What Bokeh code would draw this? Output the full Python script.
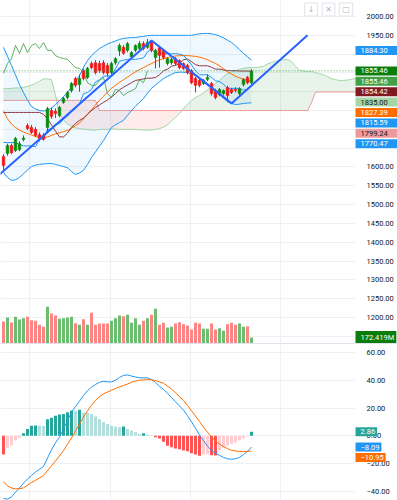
import numpy as np
from bokeh.plotting import figure
from bokeh.models import (Range1d, FixedTicker, Label, Span, CustomJSTickFormatter, Div,
                          LinearAxis, BoxAnnotation)
from bokeh.layouts import column
from bokeh.embed import file_html
from bokeh.resources import INLINE

# ---------------- daily OHLC ----------------
open_ = [1628, 1636, 1657, 1644, 1646, 1673, 1710, 1705, 1700, 1686,
         1684, 1705, 1750, 1748, 1737, 1772, 1785, 1803, 1835, 1819,
         1856, 1838, 1875, 1877, 1875, 1877, 1870, 1851, 1877, 1908,
         1918, 1910, 1893, 1910, 1915, 1928, 1918, 1931, 1891, 1917,
         1910, 1875, 1877, 1888, 1883, 1875, 1870, 1856, 1835, 1830,
         1822, 1833, 1822, 1803, 1792, 1795, 1811, 1806, 1806, 1795,
         1819, 1838, 1824]
high = [1634, 1662, 1662, 1680, 1668, 1684, 1716, 1712, 1706, 1692,
        1690, 1760, 1758, 1756, 1762, 1786, 1802, 1826, 1840, 1846,
        1862, 1866, 1880, 1884, 1882, 1884, 1876, 1880, 1892, 1928,
        1924, 1932, 1908, 1926, 1935, 1934, 1940, 1936, 1914, 1922,
        1914, 1892, 1890, 1892, 1886, 1878, 1874, 1860, 1840, 1834,
        1834, 1846, 1826, 1808, 1810, 1806, 1816, 1810, 1812, 1812,
        1836, 1842, 1860]
low = [1592, 1630, 1634, 1640, 1642, 1668, 1698, 1688, 1680, 1668,
       1670, 1690, 1728, 1730, 1732, 1768, 1780, 1798, 1812, 1800,
       1830, 1834, 1860, 1846, 1850, 1846, 1840, 1846, 1872, 1895,
       1898, 1905, 1888, 1905, 1910, 1910, 1914, 1905, 1862, 1864,
       1886, 1870, 1872, 1870, 1860, 1858, 1846, 1820, 1798, 1812,
       1818, 1828, 1790, 1780, 1788, 1790, 1772, 1794, 1798, 1790,
       1814, 1820, 1820]
close = [1604, 1657, 1638, 1676, 1662, 1677, 1702, 1692, 1684, 1676,
         1674, 1755, 1734, 1742, 1758, 1782, 1798, 1822, 1817, 1835,
         1835, 1862, 1864, 1851, 1856, 1851, 1849, 1875, 1888, 1923,
         1902, 1928, 1904, 1923, 1928, 1915, 1931, 1910, 1910, 1896,
         1891, 1888, 1886, 1875, 1864, 1862, 1851, 1824, 1817, 1817,
         1830, 1838, 1795, 1785, 1806, 1803, 1790, 1798, 1803, 1808,
         1832, 1824, 1855.46]
# volume, millions
volume = [631, 746, 603, 766, 689, 726, 766, 669, 651, 537,
          479, 1053, 861, 804, 709, 726, 746, 766, 583, 537,
          697, 537, 881, 537, 574, 574, 574, 651, 726, 804,
          784, 824, 594, 726, 537, 651, 726, 824, 996, 537,
          594, 459, 480, 574, 611, 554, 517, 402, 594, 574,
          422, 422, 574, 402, 439, 365, 554, 594, 537, 574,
          479, 497, 172.419]

# ---------------- Bollinger Bands ----------------
bb_upper = [1918, 1894, 1870, 1845, 1819, 1798, 1778, 1761, 1754, 1750,
            1749, 1750, 1757, 1766, 1776, 1787, 1798, 1812, 1828, 1843,
            1865, 1883, 1896, 1906, 1915, 1921, 1927, 1931, 1935, 1939,
            1942, 1943, 1944, 1944, 1946, 1947, 1949, 1950, 1950, 1950,
            1950, 1950, 1950, 1950, 1950, 1950, 1950, 1950, 1952, 1954,
            1955, 1955, 1954, 1952, 1948, 1943, 1937, 1931, 1922, 1912,
            1902, 1893, 1884.30]
bb_basis = [1748, 1728, 1714, 1705, 1698, 1693, 1689, 1685, 1681, 1679,
            1678, 1680, 1684, 1688, 1691, 1694, 1697, 1703, 1710, 1717,
            1728, 1740, 1752, 1765, 1777, 1788, 1799, 1809, 1817, 1825,
            1832, 1839, 1846, 1853, 1859, 1864, 1870, 1875, 1880, 1885,
            1888, 1891, 1893, 1895, 1896, 1896, 1896, 1895, 1894, 1892,
            1889, 1885, 1880, 1875, 1869, 1861, 1853, 1847, 1841, 1837,
            1833, 1830, 1827.39]
bb_lower = [1586, 1572, 1564, 1566, 1572, 1582, 1592, 1601, 1605, 1607,
            1608, 1609, 1609, 1607, 1604, 1601, 1598, 1588, 1580, 1584,
            1591, 1607, 1625, 1640, 1655, 1670, 1688, 1705, 1712, 1718,
            1724, 1737, 1750, 1761, 1772, 1782, 1796, 1809, 1818, 1827,
            1835, 1841, 1846, 1851, 1852, 1852, 1851, 1847, 1843, 1837,
            1830, 1821, 1812, 1803, 1793, 1783, 1774, 1769, 1766, 1767,
            1769, 1770, 1770.47]

# ---------------- Ichimoku ----------------
tenkan = [1665, 1665, 1665, 1665, 1660, 1656, 1656, 1656, 1654, 1673,
          1675, 1700, 1701, 1714, 1715, 1727, 1735, 1747, 1755, 1768,
          1795, 1798, 1806, 1826, 1832, 1841, 1842, 1842, 1861, 1881,
          1884, 1886, 1886, 1886, 1888, 1890, 1906, 1914, 1901, 1901,
          1901, 1901, 1901, 1901, 1900, 1897, 1884, 1871, 1856, 1845,
          1845, 1845, 1838, 1829, 1827, 1820, 1809, 1809, 1809, 1809,
          1804, 1807, 1815.59]
kijun = [1745, 1745, 1745, 1745, 1745, 1745, 1745, 1745, 1745, 1745,
         1740, 1728, 1712, 1695, 1680, 1680, 1690, 1705, 1716, 1724,
         1730, 1740, 1750, 1758, 1765, 1772, 1778, 1786, 1795, 1805,
         1812, 1818, 1824, 1830, 1832, 1834, 1836, 1836, 1838, 1845,
         1856, 1860, 1868, 1870, 1875, 1885, 1887, 1880, 1872, 1869,
         1869, 1869, 1865, 1860, 1860, 1858, 1856, 1856, 1856, 1855,
         1855, 1855, 1854.42]
# leading spans run 26 sessions past the last bar
span_a = [1808, 1808, 1809, 1810, 1810, 1812, 1814, 1818, 1822, 1828,
          1834, 1834, 1832, 1790, 1740, 1725, 1715, 1708, 1704, 1702,
          1700, 1700, 1698, 1698, 1700, 1700, 1700, 1701, 1701, 1700,
          1700, 1700, 1700, 1700, 1699, 1698, 1698, 1698, 1700, 1702,
          1706, 1712, 1722, 1732, 1742, 1755, 1767, 1777, 1785, 1790,
          1797, 1805, 1812, 1822, 1830, 1840, 1848, 1852, 1856, 1859,
          1862, 1864, 1864, 1864, 1866, 1868, 1874, 1878, 1881, 1883,
          1885, 1886, 1880, 1868, 1857, 1855, 1854, 1854, 1851, 1848,
          1845, 1840, 1835, 1832, 1830, 1830, 1831, 1833, 1835.00]
span_b = [1777, 1777, 1777, 1777, 1777, 1777, 1777, 1777, 1777, 1777,
          1777, 1777, 1777, 1777, 1777, 1777, 1777, 1777, 1777, 1777,
          1777, 1777, 1777, 1777, 1750, 1750, 1750, 1750, 1750, 1750,
          1750, 1750, 1750, 1750, 1750, 1750, 1750, 1750, 1750, 1750,
          1750, 1750, 1750, 1750, 1750, 1750, 1750, 1750, 1750, 1750,
          1750, 1750, 1750, 1750, 1750, 1750, 1750, 1750, 1750, 1750,
          1750, 1750, 1750, 1750, 1750, 1750, 1750, 1750, 1750, 1750,
          1750, 1750, 1750, 1750, 1750, 1750, 1750, 1771, 1799.24, 1799.24,
          1799.24, 1799.24, 1799.24, 1799.24, 1799.24, 1799.24, 1799.24, 1799.24, 1799.24]
CHIKOU_SHIFT = 26

# ---------------- MACD ----------------
macd_line = [-45, -45.5, -44, -40.5, -37.5, -34, -31, -28.5, -26, -24,
             -22, -16, -10, -5, -1, 5, 11, 17, 21, 25,
             29, 32.5, 35, 37, 38.5, 39.3, 38.8, 38.8, 40, 42,
             43.5, 43.8, 43, 42.3, 41.8, 41.7, 41.7, 40.5, 38.5, 35.5,
             33.5, 30.5, 27.5, 24.5, 21.5, 18.5, 14.5, 10, 5.5, 0.5,
             -3.5, -7.5, -10.5, -12.5, -14, -15.5, -16.5, -16.8, -16.5, -15.5,
             -13.5, -11, -8.09]
signal_line = [-33, -36, -37.5, -38.1, -38, -37.4, -35.5, -33.5, -32, -30.3,
               -28.6, -25, -21.5, -18, -14.5, -10.6, -6, -1.5, 3.5, 8.5,
               13.4, 18, 22, 25.5, 28.2, 30.2, 31.5, 32.8, 34, 35.3,
               36.2, 37.3, 38.5, 39.4, 40, 40.3, 40.4, 40.3, 39.8, 38.8,
               37.8, 35.8, 33.6, 31, 28.3, 25.4, 21.8, 18, 14.2, 10.4,
               6.2, 2.6, -0.8, -3.7, -6, -7.7, -9.2, -10.4, -10.9, -11.2,
               -11.3, -11.2, -10.95]
macd_hist = [-13.4, -8.6, -7.0, -3.4, -1.4, 1.9, 5.0, 7.2, 7.4, 7.2,
             7.0, 12.0, 13.0, 14.4, 15.3, 15.8, 17.0, 18.2, 18.0, 18.8,
             16.8, 16.6, 15.8, 13.9, 12.0, 10.0, 8.6, 7.2, 6.7, 6.2,
             6.7, 5.0, 3.8, 2.6, 1.4, 1.9, 1.0, 0.5, -1.0, -1.9,
             -4.3, -7.2, -8.2, -9.1, -9.6, -10.6, -11.0, -12.5, -13.4, -14.4,
             -13.4, -13.0, -13.9, -14.2, -10.6, -8.6, -7.0, -5.8, -4.8, -3.4,
             -1.9, -0.5, 2.86]

# drawn trend lines: (bar, price) anchors
trend_bar = [-1, 37, 57, 76]
trend_price = [1580, 1936, 1769, 1950]

# month boundaries (bar positions) and scale ticks
month_bars = [6.5, 26.75, 46.75, 69.25]
price_ticks = [1150, 1200, 1250, 1300, 1350, 1400, 1450, 1500, 1550, 1600,
               1650, 1700, 1750, 1800, 1850, 1900, 1950, 2000]
macd_ticks = [-40, -20, 0, 20, 40, 60]

# ---------------- layout & style ----------------
WIDTH = 397
SCALE_W = 42
PRICE_H = 343
MACD_H = 156
BAR_PX = 4.0
X_START = -0.75
X_END = X_START + (WIDTH - SCALE_W) / BAR_PX     # right edge of the chart area
X_CANVAS = X_START + WIDTH / BAR_PX              # right edge incl. price scale
PRICE_LO, PRICE_HI = 1130.9, 2042.5
MACD_LO, MACD_HI = -46.5, 65.7
VOL_HI = 9850.0
FONT = "Roboto"
FONT_SIZE = "7.5px"
TEXT = "#131722"
GRID = "#eef0f4"
UP, DOWN = "#0c8a0c", "#f01818"
UP_TAG = "#0a7d0a"
VOL_UP, VOL_DOWN = "#6cbd70", "#fd8585"
BLUE = "#2196f3"
ORANGE = "#ff6d00"
KIJUN_C = "#801922"
CHIKOU_C = "#43a047"
SPAN_A_C = "#a5d6a7"
SPAN_B_C = "#ef9a9a"
TREND_C = "#2962ff"
TAG_GAP = 10.4
TAG_PAD_V = 2
PRICE_TAG_TOP = 50.0

tick_fmt = CustomJSTickFormatter(code="""
const s = Math.abs(tick).toFixed(2);
return tick < 0 ? "\\u2212" + s : s;
""")


def fmt(v):
    return ("\u2212" if v < 0 else "") + f"{abs(v):.2f}"


def to_px(v, lo, hi, h):
    return (hi - v) / (hi - lo) * h


def from_px(px, lo, hi, h):
    return hi - px / h * (hi - lo)


def stack(real_px, gap, first=None):
    out = []
    for k, r in enumerate(real_px):
        if k == 0:
            out.append(r if first is None else first)
        else:
            out.append(max(r, out[-1] + gap))
    return out


def make_fig(h, lo, hi, x_range=None):
    f = figure(width=WIDTH, height=h,
               x_range=x_range if x_range is not None else Range1d(X_START, X_CANVAS),
               y_range=Range1d(lo, hi), output_backend="svg", toolbar_location=None,
               x_axis_location=None, y_axis_location=None,
               min_border_left=0, min_border_right=0,
               min_border_top=0, min_border_bottom=0)
    f.outline_line_color = None
    f.background_fill_color = "white"
    f.border_fill_color = "white"
    f.xgrid.ticker = FixedTicker(ticks=month_bars)
    f.xgrid.grid_line_color = GRID
    f.ygrid.grid_line_color = GRID
    # price-scale strip: keeps grid lines out of the scale area
    f.add_layout(BoxAnnotation(left=X_END, fill_color="white", fill_alpha=1.0,
                               line_color=None, level="underlay"))
    ax = LinearAxis(fixed_location=X_END)
    ax.axis_line_color = None
    ax.major_tick_line_color = None
    ax.minor_tick_line_color = None
    ax.major_label_text_font = FONT
    ax.major_label_text_font_size = FONT_SIZE
    ax.major_label_text_color = TEXT
    ax.major_label_standoff = 5
    ax.formatter = tick_fmt
    f.add_layout(ax, "right")
    return f, ax


def tag(fig, y, text, bg, fg, right_pad, y_range_name="default"):
    fig.add_layout(Label(x=X_END, y=y, text=text, x_units="data", y_units="data",
                         y_range_name=y_range_name,
                         text_font=FONT, text_font_size=FONT_SIZE, text_color=fg,
                         text_align="left", text_baseline="middle",
                         background_fill_color=bg,
                         padding=dict(left=5, right=right_pad, top=TAG_PAD_V, bottom=TAG_PAD_V)))


idx = np.arange(len(close))
fut = np.arange(len(span_a))
o = np.array(open_, dtype=float)
c = np.array(close, dtype=float)
is_up = c >= o
candle_col = [UP if u else DOWN for u in is_up]
vol_col = [VOL_UP if u else VOL_DOWN for u in is_up]

# ================= price pane =================
p1, ax1 = make_fig(PRICE_H, PRICE_LO, PRICE_HI)
p1.extra_y_ranges = {"vol": Range1d(0, VOL_HI)}

p1.vbar(x=idx, top=volume, bottom=0, width=0.75, y_range_name="vol",
        fill_color=vol_col, line_color=None)

# cloud
a = np.array(span_a, dtype=float)
b = np.array(span_b, dtype=float)
hi_ab = np.maximum(a, b)
p1.varea(x=fut, y1=b, y2=hi_ab, fill_color=CHIKOU_C, fill_alpha=0.12)
p1.varea(x=fut, y1=a, y2=hi_ab, fill_color="#f44336", fill_alpha=0.10)
p1.line(fut, span_a, line_color=SPAN_A_C, line_width=1)
p1.line(fut, span_b, line_color=SPAN_B_C, line_width=1)

# Bollinger band fill and lines
p1.varea(x=idx, y1=bb_lower, y2=bb_upper, fill_color=BLUE, fill_alpha=0.07)
p1.line(idx, bb_upper, line_color=BLUE, line_width=1)
p1.line(idx, bb_lower, line_color=BLUE, line_width=1)
p1.line(idx, bb_basis, line_color=ORANGE, line_width=1)

# Ichimoku lines
p1.line(idx, kijun, line_color=KIJUN_C, line_width=1, line_alpha=0.85)
p1.line(idx, tenkan, line_color=BLUE, line_width=1)
p1.line(idx[CHIKOU_SHIFT:] - CHIKOU_SHIFT, close[CHIKOU_SHIFT:],
        line_color=CHIKOU_C, line_width=1, line_alpha=0.85)

# candles
p1.segment(idx, high, idx, low, line_color=candle_col, line_width=1)
p1.vbar(x=idx, top=np.maximum(o, c), bottom=np.minimum(o, c), width=0.68,
        fill_color=candle_col, line_color=candle_col, line_width=0.5)

# trend lines
p1.line(trend_bar, trend_price, line_color=TREND_C, line_width=2)

# last price line
p1.add_layout(Span(location=close[-1], dimension="width", line_color=CHIKOU_C,
                   line_dash="1 2", line_width=1, line_alpha=0.9))

# price scale tags
price_tags = [
    (bb_upper[-1], BLUE, "white"),
    (close[-1], UP_TAG, "white"),
    (close[-1], CHIKOU_C, "white"),
    (kijun[-1], KIJUN_C, "white"),
    (span_a[-1], SPAN_A_C, TEXT),
    (bb_basis[-1], ORANGE, "white"),
    (tenkan[-1], BLUE, "white"),
    (span_b[-1], SPAN_B_C, TEXT),
    (bb_lower[-1], BLUE, "white"),
]
price_tags.sort(key=lambda t: -t[0])
real = [to_px(v, PRICE_LO, PRICE_HI, PRICE_H) for v, _, _ in price_tags]
placed = stack(real, TAG_GAP, first=PRICE_TAG_TOP)
busy = []
for (v, bg, fg), py in zip(price_tags, placed):
    tag(p1, from_px(py, PRICE_LO, PRICE_HI, PRICE_H), f"{v:.2f}", bg, fg, 10)
    busy.append(py)

vol_py = to_px(volume[-1], 0, VOL_HI, PRICE_H)
tag(p1, volume[-1], f"{volume[-1]:.3f}M", UP_TAG, "white", 2, y_range_name="vol")
busy.append(vol_py)

shown = [t for t in price_ticks
         if all(abs(to_px(t, PRICE_LO, PRICE_HI, PRICE_H) - py) > TAG_GAP / 2 + 3 for py in busy)]
ax1.ticker = FixedTicker(ticks=shown)
p1.ygrid.ticker = FixedTicker(ticks=price_ticks)

# pane buttons (top right)
for cx, glyph in [(310.5, "\u2193"), (328, "\u2715"), (345.5, "\u25a2")]:
    p1.add_layout(Label(x=X_START + cx / BAR_PX, y=from_px(9, PRICE_LO, PRICE_HI, PRICE_H),
                        text=glyph, text_font="DejaVu Sans", text_font_size="8px",
                        text_color="#b2b5be", text_align="center", text_baseline="middle",
                        background_fill_color="white", border_line_color="#e0e3eb",
                        padding=dict(left=3, right=3, top=2, bottom=2)))

# ================= MACD pane =================
p2, ax2 = make_fig(MACD_H, MACD_LO, MACD_HI, x_range=p1.x_range)
hist_col = []
prev = 0.0
for h in macd_hist:
    if h >= 0:
        hist_col.append("#26a69a" if h > prev else "#b2dfdb")
    else:
        hist_col.append("#ffcdd2" if h > prev else "#ff5252")
    prev = h
p2.vbar(x=idx, top=macd_hist, bottom=0, width=0.75, fill_color=hist_col, line_color=None)
p2.line(idx, macd_line, line_color=BLUE, line_width=1)
p2.line(idx, signal_line, line_color=ORANGE, line_width=1)

macd_tags = [(macd_hist[-1], "#26a69a"), (macd_line[-1], BLUE), (signal_line[-1], ORANGE)]
macd_tags.sort(key=lambda t: -t[0])
real = [to_px(v, MACD_LO, MACD_HI, MACD_H) for v, _ in macd_tags]
placed = stack(real, TAG_GAP)
for (v, bg), py in zip(macd_tags, placed):
    tag(p2, from_px(py, MACD_LO, MACD_HI, MACD_H), fmt(v), bg, "white", 2)
ax2.ticker = FixedTicker(ticks=macd_ticks)
p2.ygrid.ticker = FixedTicker(ticks=macd_ticks)

sep = Div(text="", width=WIDTH, height=1, margin=0,
          styles={"background-color": "#e0e3eb"})

layout = column(p1, sep, p2, spacing=0)
open("out.html", "w").write(file_html(layout, INLINE))
